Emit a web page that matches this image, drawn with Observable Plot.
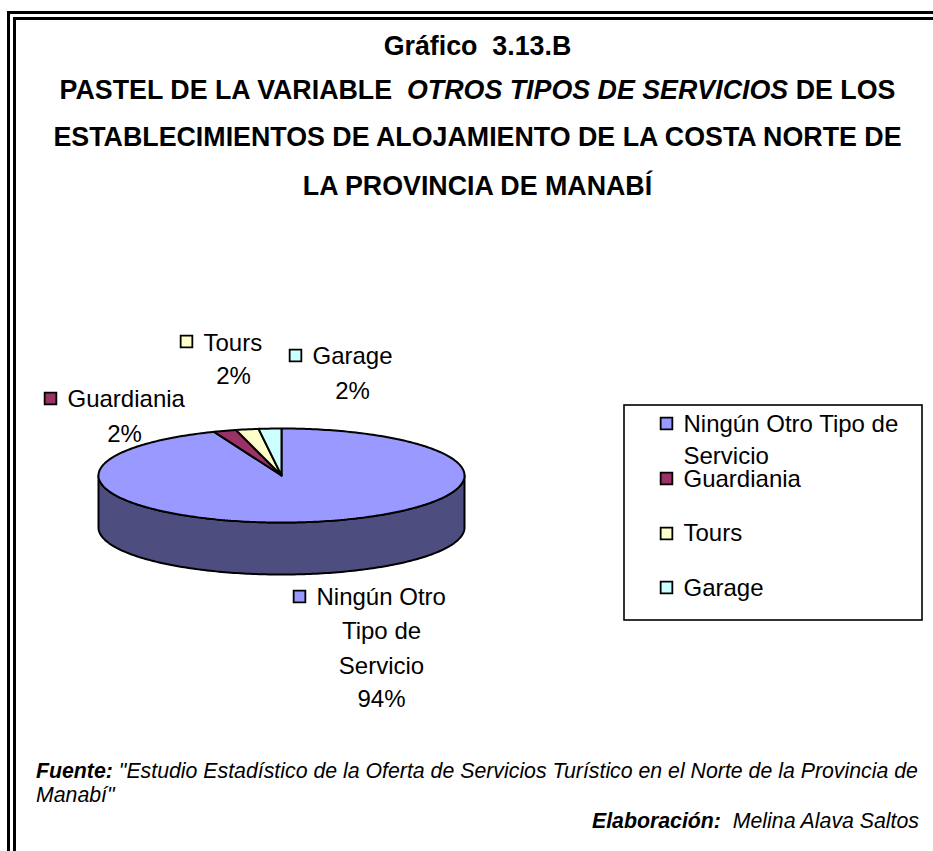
<!DOCTYPE html>
<html lang="es">
<head>
<meta charset="utf-8">
<script src="https://cdn.jsdelivr.net/npm/d3@7"></script>
<script src="https://cdn.jsdelivr.net/npm/@observablehq/plot@0.6"></script>
<style>
html,body{margin:0;padding:0;background:#fff;}
#page{position:relative;width:933px;height:851px;overflow:hidden;font-family:"Liberation Sans",Arial,sans-serif;color:#000;}
.rule{position:absolute;background:#000;}
.t{position:absolute;left:0;width:955px;text-align:center;font-weight:bold;font-size:26.8px;line-height:30px;white-space:nowrap;}
.c{position:absolute;font-style:italic;font-size:21.3px;line-height:24px;white-space:nowrap;}
#chart{position:absolute;left:0;top:220px;}
#chart svg{display:block;}
</style>
</head>
<body>
<div id="page">
  <div class="rule" style="left:7px;top:11px;width:926px;height:3px"></div>
  <div class="rule" style="left:13px;top:17px;width:920px;height:3px"></div>
  <div class="rule" style="left:7px;top:11px;width:3px;height:840px"></div>
  <div class="rule" style="left:13px;top:17px;width:3px;height:834px"></div>
  <div class="t" style="top:31px">Gráfico&nbsp; 3.13.B</div>
  <div class="t" style="top:75px">PASTEL DE LA VARIABLE&nbsp; <i>OTROS TIPOS DE SERVICIOS</i> DE LOS</div>
  <div class="t" style="top:122px">ESTABLECIMIENTOS DE ALOJAMIENTO DE LA COSTA NORTE DE</div>
  <div class="t" style="top:171px">LA PROVINCIA DE MANABÍ</div>
  <div id="chart"></div>
  <div class="c" style="left:36px;top:759px"><b>Fuente:</b> "Estudio Estadístico de la Oferta de Servicios Turístico en el Norte de la Provincia de</div>
  <div class="c" style="left:36px;top:783px">Manabí"</div>
  <div class="c" style="right:14px;top:809px"><b>Elaboración:</b>&nbsp; Melina Alava Saltos</div>
</div>
<script>
// Data
const categories = ["Ningún Otro Tipo de Servicio", "Guardiania", "Tours", "Garage"];
const percents = [94, 2, 2, 2];
const colors = ["#9999FF", "#993366", "#FFFFCC", "#CCFFFF"];
const sideColor = "#4D4D80";

// Pie layout
const W = 933, TOP = 220, BOTTOM = 740;
const cx = 281, cy = 475, rx = 183, ry = 47, depth = 52;
const total = d3.sum(percents);
const px = a => cx + rx * Math.sin(a);
const py = a => cy - ry * Math.cos(a);
const step = Math.PI / 180;

// Slices run clockwise from 12 o'clock
const slices = [];
let start = 0;
categories.forEach((name, i) => {
  const end = start + percents[i] / total * 2 * Math.PI;
  slices.push({name, x: cx, y: cy});
  for (let a = start; a < end; a += step) slices.push({name, x: px(a), y: py(a)});
  slices.push({name, x: px(end), y: py(end)});
  slices.push({name, x: cx, y: cy});
  start = end;
});

// Front wall of the disc
const side = [];
for (let a = Math.PI / 2; a <= 1.5 * Math.PI + 1e-9; a += step) side.push({x: px(a), y: py(a)});
for (let a = 1.5 * Math.PI; a >= Math.PI / 2 - 1e-9; a -= step) side.push({x: px(a), y: py(a) + depth});
side.push(side[0]);

// Data labels on the pie
const labelRows = [
  {text: "Guardiania", x: 67, y: 399, anchor: "start"},
  {text: percents[1] + "%", x: 124, y: 434, anchor: "middle"},
  {text: "Tours", x: 203, y: 343, anchor: "start"},
  {text: percents[2] + "%", x: 233, y: 376, anchor: "middle"},
  {text: "Garage", x: 312, y: 356, anchor: "start"},
  {text: percents[3] + "%", x: 352, y: 391, anchor: "middle"},
  {text: "Ningún Otro", x: 316, y: 597, anchor: "start"},
  {text: "Tipo de", x: 381, y: 631, anchor: "middle"},
  {text: "Servicio", x: 381, y: 666, anchor: "middle"},
  {text: percents[0] + "%", x: 381, y: 699, anchor: "middle"}
];
const labelKeys = [
  {name: categories[1], x: 50, y: 398},
  {name: categories[2], x: 186, y: 341},
  {name: categories[3], x: 295, y: 355},
  {name: categories[0], x: 299, y: 596}
];

// Legend box
const legendText = [
  {text: "Ningún Otro Tipo de", y: 424},
  {text: "Servicio", y: 456},
  {text: categories[1], y: 479},
  {text: categories[2], y: 533},
  {text: categories[3], y: 588}
];
const legendKeys = [
  {name: categories[0], y: 423},
  {name: categories[1], y: 478},
  {name: categories[2], y: 533},
  {name: categories[3], y: 587}
];

const fontSize = 24;
const keyMark = (rows, x) => Plot.dot(rows, {
  x: x ?? "x", y: "y", fill: "name", stroke: "#000", strokeWidth: 1.8,
  symbol: "square", r: 6.6
});
const textMark = (rows, opts) => Plot.text(rows, {
  text: "text", y: "y", fontSize, fill: "#000", lineAnchor: "middle", ...opts
});

const chart = Plot.plot({
  width: W,
  height: BOTTOM - TOP,
  margin: 0,
  x: {domain: [0, W], range: [0, W], axis: null},
  y: {domain: [TOP, BOTTOM], range: [0, BOTTOM - TOP], axis: null},
  color: {domain: categories, range: colors},
  style: {background: "transparent", fontFamily: '"Liberation Sans", Arial, sans-serif'},
  marks: [
    Plot.line(side, {x: "x", y: "y", fill: sideColor, stroke: "#000", strokeWidth: 2, curve: "linear"}),
    Plot.line(slices, {x: "x", y: "y", z: "name", fill: "name", stroke: "#000", strokeWidth: 2, curve: "linear", strokeLinejoin: "miter"}),
    keyMark(labelKeys),
    ...["start", "middle"].map(anchor => textMark(labelRows.filter(d => d.anchor === anchor), {x: "x", textAnchor: anchor})),
    Plot.rect([{x1: 624, x2: 922, y1: 405, y2: 620}], {x1: "x1", x2: "x2", y1: "y1", y2: "y2", fill: "#fff", stroke: "#000", strokeWidth: 1.6}),
    keyMark(legendKeys, () => 666),
    textMark(legendText, {x: () => 683, textAnchor: "start"})
  ]
});
document.getElementById("chart").appendChild(chart);
</script>
</body>
</html>
